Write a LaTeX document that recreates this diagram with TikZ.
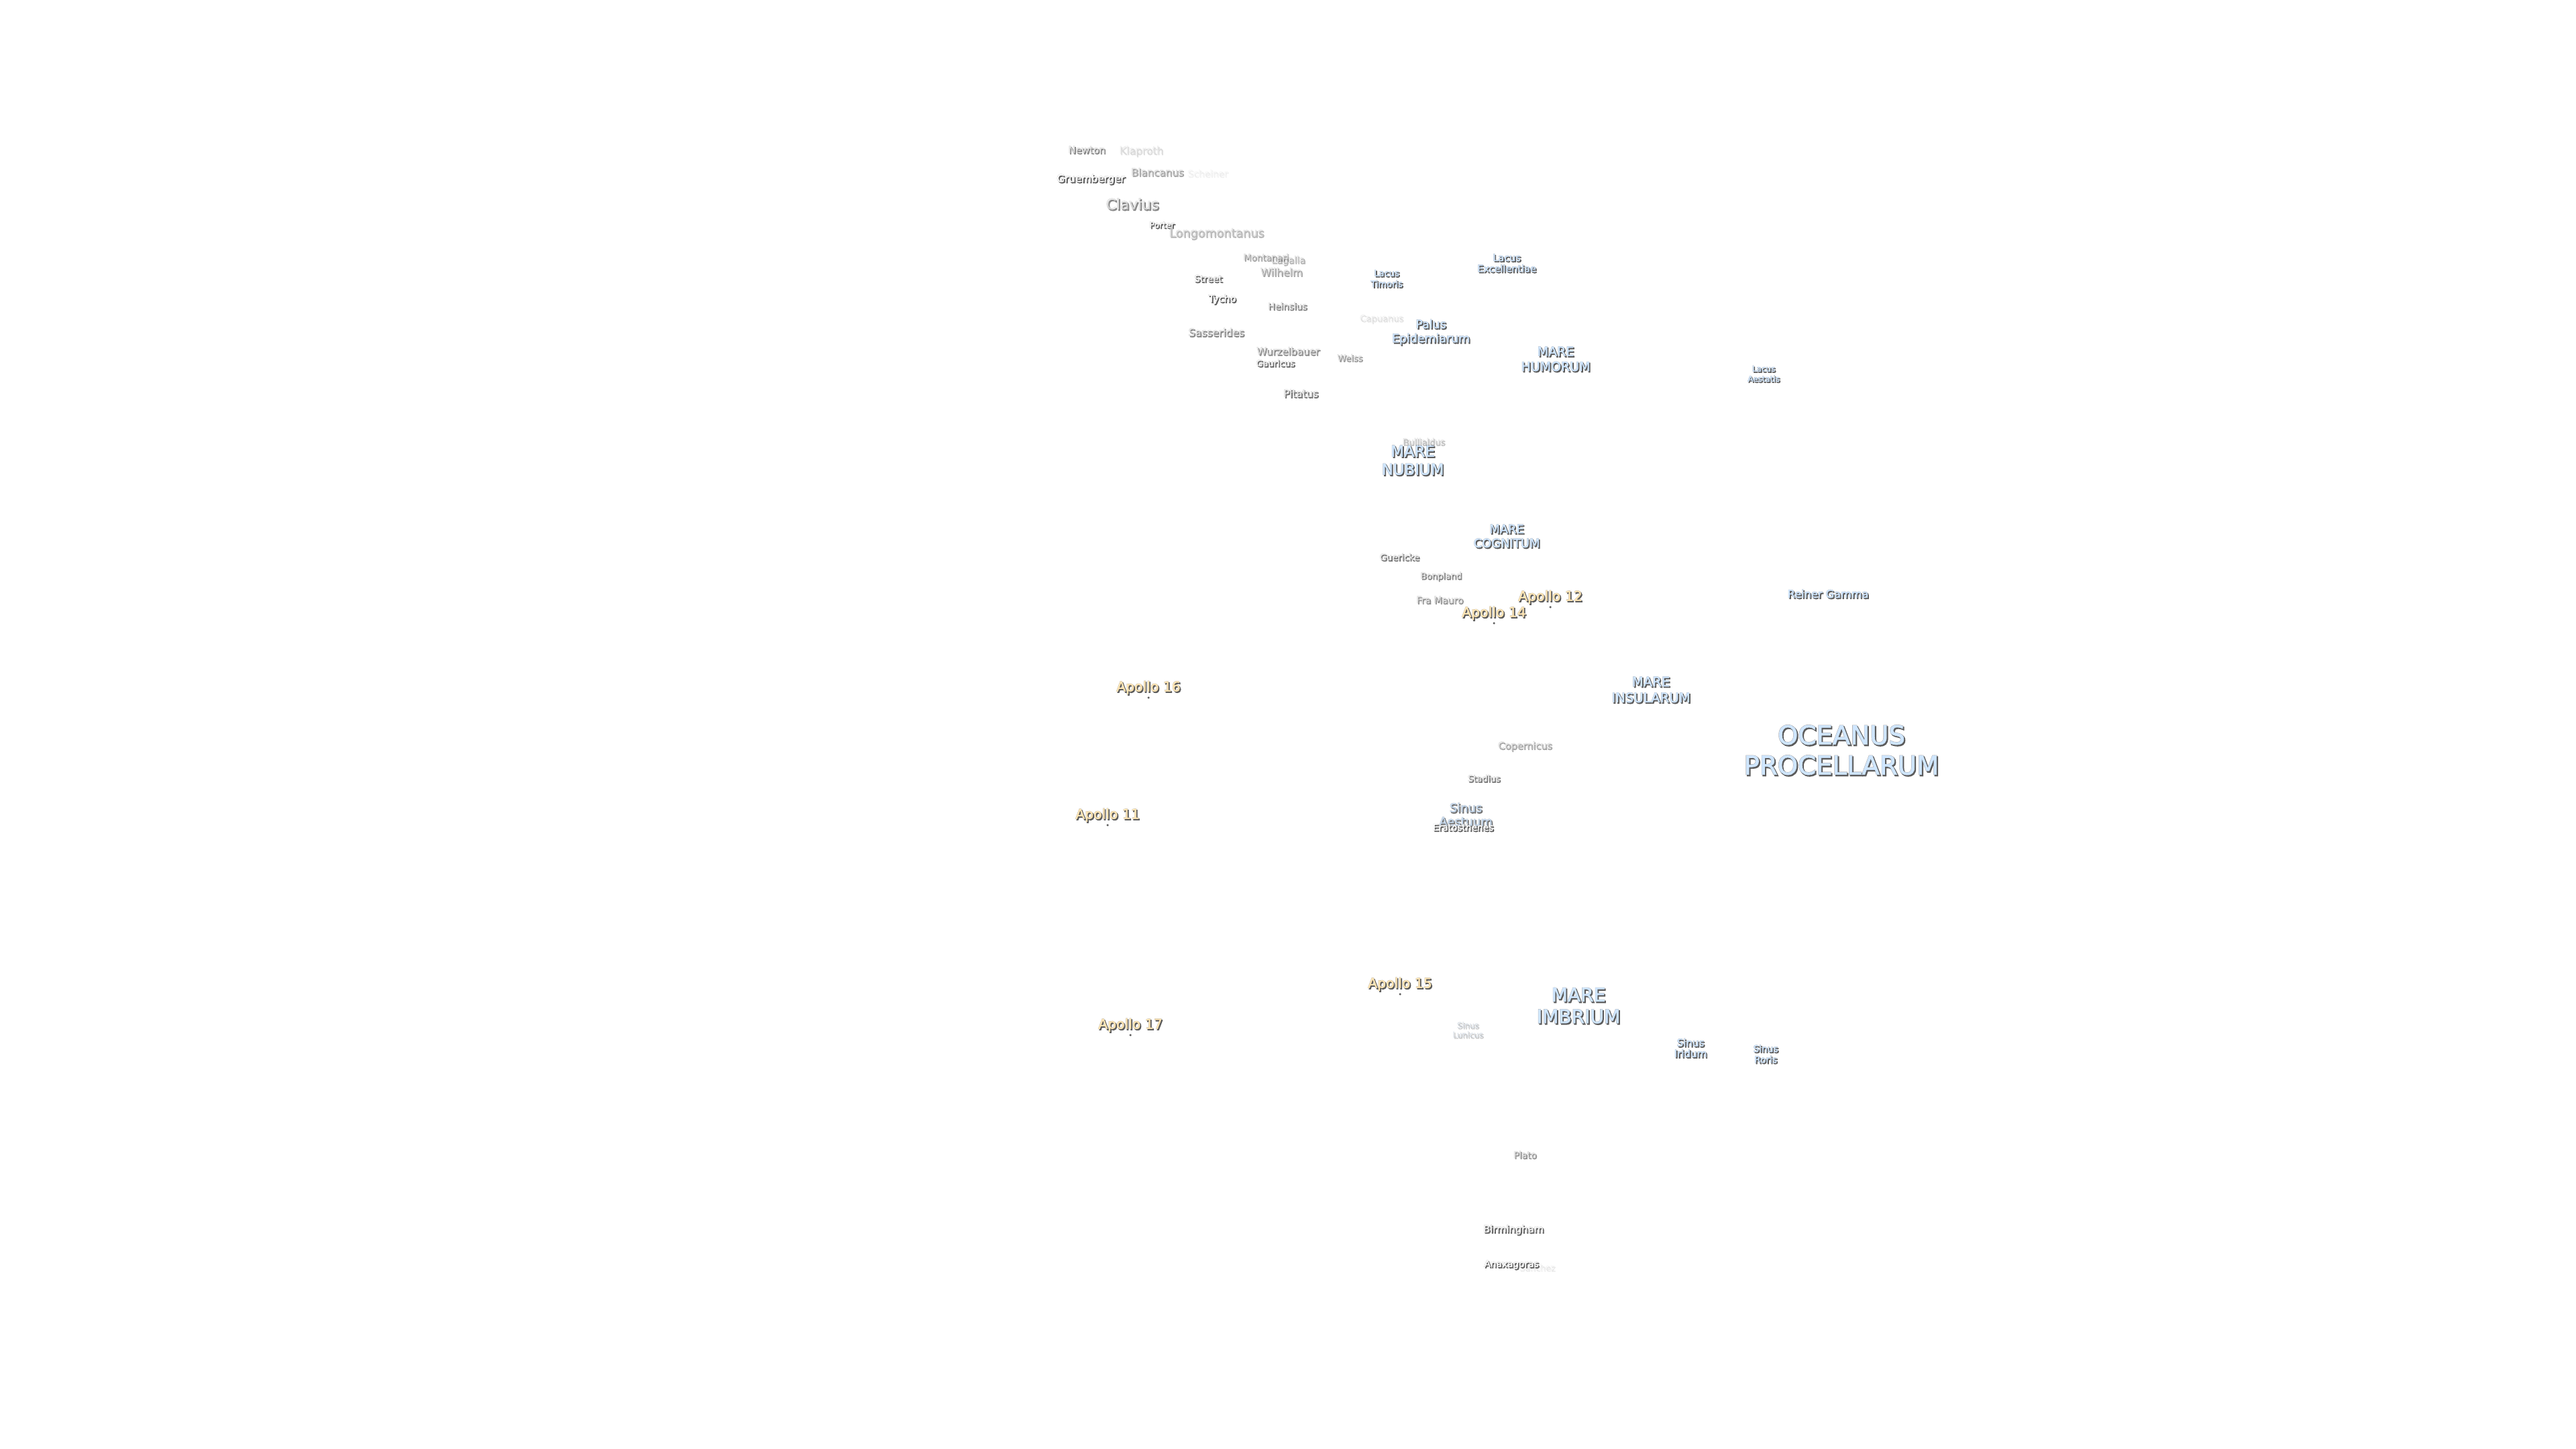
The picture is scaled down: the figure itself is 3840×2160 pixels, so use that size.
\documentclass[tikz,border=0pt]{standalone}
\usepackage{fontspec}
\setmainfont{DejaVu Sans}
\newfontfamily\haloFont[FakeBold=4.5]{DejaVu Sans}
\newfontfamily\coreFont[FakeBold=1.6]{DejaVu Sans}
\usetikzlibrary{positioning}
\definecolor{mareFill}{HTML}{CFE6FF}
\definecolor{apolloFill}{HTML}{FFE6B4}
\definecolor{haloGray}{HTML}{B0B0B0}
\definecolor{shadowGray}{HTML}{5C5C5C}
\tikzset{
    moonBase/.style={inner sep=0pt, align=center},
    moonHalo/.style={moonBase, text=haloGray},
    moonShadow/.style={moonBase, text=shadowGray},
    craterText/.style={moonBase, text=white},
    mareText/.style={moonBase, text=mareFill},
    apolloText/.style={moonBase, text=apolloFill},
    siteDot/.style={circle, fill=shadowGray, inner sep=0pt, minimum size=0.35mm},
}
% name, style, position, size, line spacing, opacity, text
\newcommand{\moonLabel}[7]{
    \node[moonHalo, opacity=#6, font=\haloFont\fontsize{#4}{#5}\selectfont] (#1h) at (#3) {#7};
    \node[moonShadow, opacity=#6, xshift=0.16mm, yshift=-0.18mm, font=\haloFont\fontsize{#4}{#5}\selectfont] (#1s) at (#3) {#7};
    \node[#2, opacity=#6, font=\coreFont\fontsize{#4}{#5}\selectfont] (#1) at (#3) {#7};
}
\newcommand{\apolloLabel}[4]{
    \moonLabel{#1}{apolloText}{#2,#3}{5.8}{7}{1}{#4}
    \node[siteDot] (#1dot) at (#2,#3+15) {};
}
\begin{document}
\begin{tikzpicture}[x=0.1mm, y=-0.1mm]
    \useasboundingbox (0,0) rectangle (3840,2160);

    % seas and lakes
    \moonLabel{oceanus}{mareText}{2745,1118}{11}{12.8}{1}{OCEANUS\\PROCELLARUM}
    \moonLabel{imbrium}{mareText}{2353,1499}{8}{9.2}{1}{MARE\\IMBRIUM}
    \moonLabel{nubium}{mareText}{2106,686}{6.5}{7.7}{1}{MARE\\NUBIUM}
    \moonLabel{insularum}{mareText}{2461,1028}{5.6}{6.8}{1}{MARE\\INSULARUM}
    \moonLabel{cognitum}{mareText}{2246,799}{5.1}{6}{1}{MARE\\COGNITUM}
    \moonLabel{humorum}{mareText}{2319,535}{5.4}{6.4}{1}{MARE\\HUMORUM}
    \moonLabel{epidemiarum}{mareText}{2133,495}{4.95}{6}{1}{Palus\\Epidemiarum}
    \moonLabel{timoris}{mareText}{2067,415}{3.7}{4.6}{1}{Lacus\\Timoris}
    \moonLabel{excellentiae}{mareText}{2246,392}{4.1}{4.6}{1}{Lacus\\Excellentiae}
    \moonLabel{aestatis}{mareText}{2629,557}{3.4}{4.3}{1}{Lacus\\Aestatis}
    \moonLabel{gamma}{mareText}{2725,885}{4.6}{6}{1}{Reiner Gamma}
    \moonLabel{aestuum}{mareText}{2185,1214}{5.1}{5.8}{0.75}{Sinus\\Aestuum}
    \moonLabel{iridum}{mareText}{2520,1562}{4.3}{4.6}{1}{Sinus\\Iridum}
    \moonLabel{roris}{mareText}{2632,1571}{3.9}{4.6}{1}{Sinus\\Roris}
    \moonLabel{lunicus}{mareText}{2188,1535}{3.4}{4}{0.2}{Sinus\\Lunicus}

    % craters
    \moonLabel{newton}{craterText}{1620,223}{4.1}{5}{0.6}{Newton}
    \moonLabel{klaproth}{craterText}{1701,225}{4.4}{5}{0.13}{Klaproth}
    \moonLabel{blancanus}{craterText}{1725,256}{4.3}{5}{0.4}{Blancanus}
    \moonLabel{scheiner}{craterText}{1800,258}{3.9}{5}{0.05}{Scheiner}
    \moonLabel{gruemberger}{craterText}{1626,267}{4.3}{5}{1}{Gruemberger}
    \moonLabel{clavius}{craterText}{1688,304}{6.2}{8}{0.6}{Clavius}
    \moonLabel{porter}{craterText}{1732,335}{3.5}{5}{1}{Porter}
    \moonLabel{longomontanus}{craterText}{1813,348}{5}{6}{0.3}{Longomontanus}
    \moonLabel{montanari}{craterText}{1887,383}{3.8}{5}{0.4}{Montanari}
    \moonLabel{lagalla}{craterText}{1920,388}{4}{5}{0.3}{Lagalla}
    \moonLabel{wilhelm}{craterText}{1910,405}{4.4}{5}{0.4}{Wilhelm}
    \moonLabel{street}{craterText}{1801,415}{3.9}{5}{0.9}{Street}
    \moonLabel{tycho}{craterText}{1822,446}{4.1}{5}{1}{Tycho}
    \moonLabel{heinsius}{craterText}{1919,456}{3.9}{5}{0.6}{Heinsius}
    \moonLabel{capuanus}{craterText}{2059,475}{3.7}{5}{0.1}{Capuanus}
    \moonLabel{sasserides}{craterText}{1813,495}{4.4}{5}{0.6}{Sasserides}
    \moonLabel{wurzelbauer}{craterText}{1920,523}{4.2}{5}{0.55}{Wurzelbauer}
    \moonLabel{gauricus}{craterText}{1901,541}{3.7}{5}{0.85}{Gauricus}
    \moonLabel{weiss}{craterText}{2012,533}{3.7}{5}{0.45}{Weiss}
    \moonLabel{pitatus}{craterText}{1939,586}{4.3}{5}{0.75}{Pitatus}
    \moonLabel{bullialdus}{craterText}{2122,658}{3.7}{5}{0.25}{Bullialdus}
    \moonLabel{guericke}{craterText}{2086,830}{3.8}{5}{0.75}{Guericke}
    \moonLabel{bonpland}{craterText}{2148,859}{3.7}{5}{0.6}{Bonpland}
    \moonLabel{fraMauro}{craterText}{2146,894}{4}{5}{0.5}{Fra Mauro}
    \moonLabel{copernicus}{craterText}{2273,1112}{4.1}{5}{0.4}{Copernicus}
    \moonLabel{stadius}{craterText}{2212,1160}{3.7}{5}{0.7}{Stadius}
    \moonLabel{eratosthenes}{craterText}{2181,1233}{3.9}{5}{1}{Eratosthenes}
    \moonLabel{plato}{craterText}{2273,1721}{3.9}{5}{0.5}{Plato}
    \moonLabel{birmingham}{craterText}{2256,1833}{4.2}{5}{0.9}{Birmingham}
    \moonLabel{sanchez}{craterText}{2291,1889}{3.6}{5}{0.07}{Sanchez}
    \moonLabel{anaxagoras}{craterText}{2253,1885}{3.9}{5}{1}{Anaxagoras}

    % landing sites
    \apolloLabel{apolloXii}{2311}{890}{Apollo 12}
    \apolloLabel{apolloXiv}{2227}{914}{Apollo 14}
    \apolloLabel{apolloXvi}{1712}{1025}{Apollo 16}
    \apolloLabel{apolloXi}{1651}{1215}{Apollo 11}
    \apolloLabel{apolloXv}{2087}{1467}{Apollo 15}
    \apolloLabel{apolloXvii}{1685}{1528}{Apollo 17}

\end{tikzpicture}
\end{document}
